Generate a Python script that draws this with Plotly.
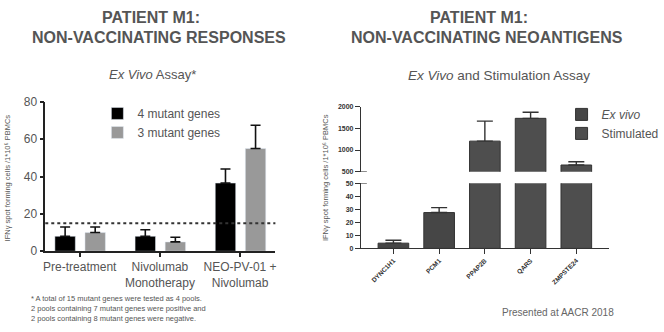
import plotly.graph_objects as go

W, H = 664, 332
def px(x): return x / W
def py(y): return 1 - y / H

FONT = "Liberation Sans, Arial, Helvetica, sans-serif"

# ---- Left chart data ----
groups = ["Pre-treatment", "Nivolumab<br>Monotherapy", "NEO-PV-01 +<br>Nivolumab"]
mut4_vals = [8, 8, 36.5]
mut4_err_top = [13, 11.5, 44]
mut3_vals = [10, 5, 55]
mut3_err_top = [13, 7.5, 67.5]
threshold = 15
left_yticks = [0, 20, 40, 60, 80]

# ---- Right chart data ----
genes = ["DYNC1H1", "PCM1", "PPAP2B", "QARS", "ZMPSTE24"]
exvivo_genes = ["DYNC1H1", "PCM1"]
exvivo_vals = [4, 27.5]
exvivo_err_top = [6.2, 31.3]
stim_genes = ["PPAP2B", "QARS", "ZMPSTE24"]
stim_vals = [1205, 1730, 655]
stim_err_top = [1665, 1870, 730]
low_ticks = [0, 10, 20, 30, 40, 50]
high_ticks = [500, 1000, 1500, 2000]

fig = go.Figure()

# Left bars
fig.add_trace(go.Bar(
    x=groups, y=mut4_vals, name="4 mutant genes", marker=dict(color="#000000"),
    offset=-0.31, width=0.255, xaxis="x", yaxis="y", legend="legend",
    error_y=dict(type="data", symmetric=False,
                 array=[t - v for t, v in zip(mut4_err_top, mut4_vals)],
                 arrayminus=[0] * 3, color="#111111", thickness=1.6, width=5)))
fig.add_trace(go.Bar(
    x=groups, y=mut3_vals, name="3 mutant genes", marker=dict(color="#999999"),
    offset=0.065, width=0.255, xaxis="x", yaxis="y", legend="legend",
    error_y=dict(type="data", symmetric=False,
                 array=[t - v for t, v in zip(mut3_err_top, mut3_vals)],
                 arrayminus=[0] * 3, color="#111111", thickness=1.6, width=5)))

# Right bars: lower panel
fig.add_trace(go.Bar(
    x=exvivo_genes, y=exvivo_vals, name="<i>Ex vivo</i>",
    marker=dict(color="#464646", line=dict(color="#333333", width=1)),
    offset=-0.335, width=0.67, xaxis="x2", yaxis="y2", legend="legend2",
    error_y=dict(type="data", symmetric=False,
                 array=[t - v for t, v in zip(exvivo_err_top, exvivo_vals)],
                 arrayminus=[0] * 2, color="#333333", thickness=1.4, width=8)))
fig.add_trace(go.Bar(
    x=stim_genes, y=stim_vals, name="Stimulated",
    marker=dict(color="#4e4e4e", line=dict(color="#333333", width=1)),
    offset=-0.335, width=0.67, xaxis="x2", yaxis="y2", legend="legend2"))
# Right bars: upper panel
fig.add_trace(go.Bar(
    x=stim_genes, y=stim_vals, name="Stimulated", showlegend=False,
    marker=dict(color="#4e4e4e", line=dict(color="#333333", width=1)),
    offset=-0.335, width=0.67, xaxis="x2", yaxis="y3",
    error_y=dict(type="data", symmetric=False,
                 array=[t - v for t, v in zip(stim_err_top, stim_vals)],
                 arrayminus=[0] * 3, color="#333333", thickness=1.4, width=8)))

left_tick_font = dict(family=FONT, size=12, color="#555555")
right_tick_font = dict(family=FONT, size=7, color="#333333", weight="bold")

fig.update_layout(
    width=W, height=H, margin=dict(l=0, r=0, t=0, b=0),
    paper_bgcolor="white", plot_bgcolor="white",
    barmode="overlay",
    font=dict(family=FONT, color="#555555"),
    xaxis=dict(domain=[px(44), px(278)], range=[-0.43, 2.44], anchor="y",
               categoryorder="array", categoryarray=groups,
               showline=True, linecolor="#222222", linewidth=1.5,
               ticks="outside", ticklen=4, tickwidth=1.5, tickcolor="#222222",
               tickfont=left_tick_font, showgrid=False, zeroline=False),
    yaxis=dict(domain=[py(255), py(99)], range=[0, 80], anchor="x",
               tickvals=left_yticks, showline=True, linecolor="#222222", linewidth=1.5,
               ticks="outside", ticklen=4, tickwidth=1.5, tickcolor="#222222",
               tickfont=left_tick_font, showgrid=False, zeroline=False),
    xaxis2=dict(domain=[px(365), px(617)], range=[-0.71, 4.71], anchor="y2",
                categoryorder="array", categoryarray=genes,
                showline=True, linecolor="#333333", linewidth=1.2,
                ticks="outside", ticklen=5, tickwidth=1, tickcolor="#333333",
                tickangle=-45, tickfont=dict(family=FONT, size=6.5, color="#333333", weight="bold"),
                showgrid=False, zeroline=False),
    yaxis2=dict(domain=[py(252), py(184)], range=[0, 50], anchor="x2",
                tickvals=low_ticks, showline=True, linecolor="#333333", linewidth=1.2,
                ticks="outside", ticklen=5, tickwidth=1, tickcolor="#333333",
                tickfont=right_tick_font, showgrid=False, zeroline=False),
    yaxis3=dict(domain=[py(172), py(104)], range=[500, 2000], anchor="x2",
                tickvals=high_ticks, showline=True, linecolor="#333333", linewidth=1.2,
                ticks="outside", ticklen=5, tickwidth=1, tickcolor="#333333",
                tickfont=right_tick_font, showgrid=False, zeroline=False),
    legend=dict(x=px(97), y=py(96), xanchor="left", yanchor="top",
                font=dict(family=FONT, size=12, color="#555555"),
                bgcolor="rgba(0,0,0,0)", tracegroupgap=0),
    legend2=dict(x=px(569), y=py(97), xanchor="left", yanchor="top",
                 font=dict(family=FONT, size=12, color="#555555"),
                 bgcolor="rgba(0,0,0,0)", tracegroupgap=0),
    shapes=[
        dict(type="line", xref="x domain", yref="y", x0=0, x1=1, y0=threshold, y1=threshold,
             line=dict(color="#333333", width=2, dash="dot")),
        dict(type="line", xref="paper", yref="y3", x0=px(360), x1=px(371), y0=500, y1=500,
             line=dict(color="#333333", width=1.2)),
        dict(type="line", xref="paper", yref="y2", x0=px(360), x1=px(371), y0=50, y1=50,
             line=dict(color="#333333", width=1.2)),
    ],
)

ytitle = "IFNγ spot forming cells /1*10⁶ PBMCs"
ann = [
    dict(text="<b>PATIENT M1:</b>", x=px(152), y=py(11), size=16),
    dict(text="<b>NON-VACCINATING RESPONSES</b>", x=px(160), y=py(32), size=16),
    dict(text="<i>Ex Vivo</i> Assay*", x=px(153), y=py(70), size=13),
    dict(text="<b>PATIENT M1:</b>", x=px(485), y=py(11), size=16),
    dict(text="<b>NON-VACCINATING NEOANTIGENS</b>", x=px(493), y=py(32), size=16),
    dict(text="<i>Ex Vivo</i> and Stimulation Assay", x=px(505), y=py(72), size=13.5),
    dict(text="Presented at AACR 2018", x=px(565), y=py(319), size=10, color="#666666"),
]
for a in ann:
    fig.add_annotation(text=a["text"], x=a["x"], y=a["y"], xref="paper", yref="paper",
                       xanchor="center", yanchor="middle", showarrow=False,
                       font=dict(family=FONT, size=a["size"], color=a.get("color", "#555555")))

for xpos in (6, 329):
    fig.add_annotation(text=ytitle, x=px(xpos), y=py(178), xref="paper", yref="paper",
                       textangle=-90, showarrow=False, xanchor="center", yanchor="middle",
                       font=dict(family=FONT, size=7.5, color="#555555"))

fig.add_annotation(
    text="* A total of 15 mutant genes were tested as 4 pools.<br>"
         "2 pools containing 7 mutant genes were positive and<br>"
         "2 pools containing 8 mutant genes were negative.",
    x=px(27), y=py(298), xref="paper", yref="paper", xanchor="left", yanchor="top",
    align="left", showarrow=False, font=dict(family=FONT, size=7.5, color="#555555"))

fig.write_html("out.html")
